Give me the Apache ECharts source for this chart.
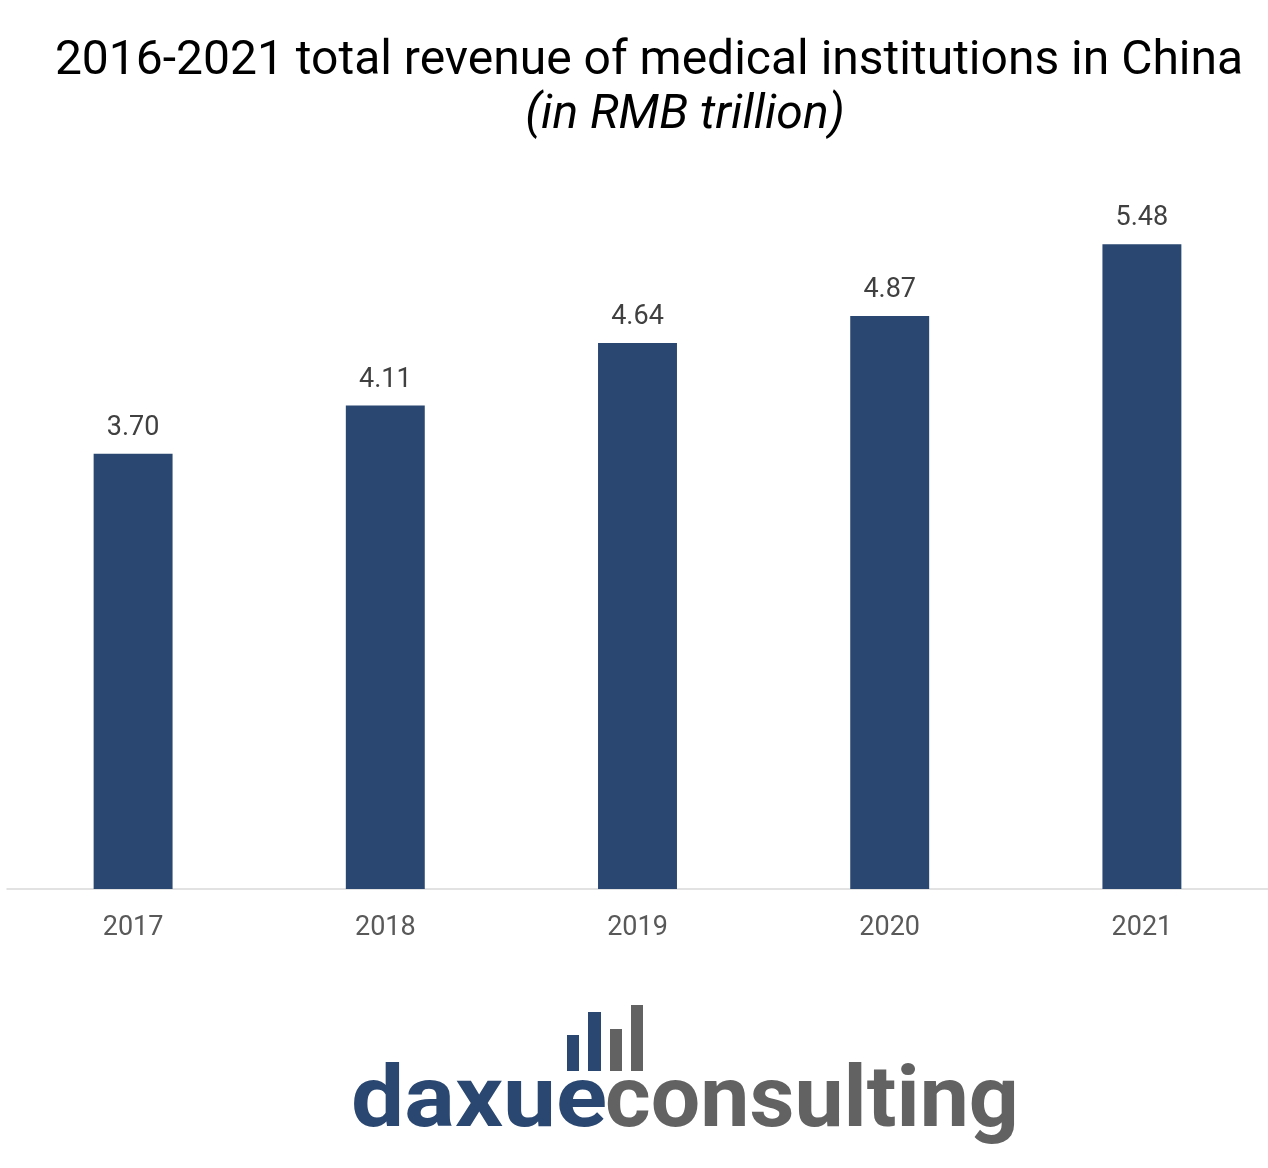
<!DOCTYPE html>
<html>
<head>
<meta charset="utf-8">
<script src="https://cdn.jsdelivr.net/npm/echarts@6/dist/echarts.min.js"></script>
<style>
html,body{margin:0;padding:0;background:#fff;}
#chart{width:1268px;height:1168px;}
</style>
</head>
<body>
<div id="chart"></div>
<script>
var categories = ['2017', '2018', '2019', '2020', '2021'];
var revenue = [3.70, 4.11, 4.64, 4.87, 5.48];
var titleText = '2016-2021 total revenue of medical institutions in China';
var subtitleText = '(in RMB trillion)';
var logoPartA = 'daxue';
var logoPartB = 'consulting';

var chart = echarts.init(document.getElementById('chart'));
chart.setOption({
  backgroundColor: '#ffffff',
  animation: false,
  title: [
    {
      text: titleText,
      left: 644, top: 33, textAlign: 'center',
      textStyle: {fontFamily: 'Roboto', fontSize: 48, fontWeight: 'normal', color: '#000000'}
    },
    {
      text: subtitleText,
      left: 680, top: 87, textAlign: 'center',
      textStyle: {fontFamily: 'Roboto', fontSize: 48, fontWeight: 'normal', fontStyle: 'italic', color: '#000000'}
    }
  ],
  grid: {left: 7, right: 0, top: 183, bottom: 279, containLabel: false},
  xAxis: {
    type: 'category',
    data: categories,
    axisLine: {show: true, lineStyle: {color: '#d9d9d9', width: 1.5}},
    axisTick: {show: false},
    axisLabel: {fontFamily: 'Roboto', fontSize: 27, color: '#595959', margin: 26}
  },
  yAxis: {
    type: 'value', min: 0, max: 6, interval: 1,
    show: false,
    splitLine: {show: false}
  },
  series: [{
    type: 'bar',
    data: revenue,
    barWidth: '31.3%',
    itemStyle: {color: '#2a4771'},
    label: {
      show: true, position: 'top', distance: 12,
      fontFamily: 'Roboto', fontSize: 27, color: '#404040',
      formatter: function (p) { return p.value.toFixed(2); }
    }
  }],
  graphic: [
    {type: 'rect', shape: {x: 567, y: 1035, width: 12, height: 36}, style: {fill: '#2a4771'}},
    {type: 'rect', shape: {x: 588, y: 1012, width: 13, height: 59}, style: {fill: '#2a4771'}},
    {type: 'rect', shape: {x: 610, y: 1029, width: 12, height: 42}, style: {fill: '#626262'}},
    {type: 'rect', shape: {x: 631, y: 1005, width: 12, height: 66}, style: {fill: '#626262'}},
    {
      type: 'text', x: 351, y: 1061, scaleX: 1.10,
      style: {text: logoPartA, x: 0, y: 0, font: 'bold 86px Roboto', fill: '#2a4771'}
    },
    {
      type: 'text', x: 605, y: 1061, scaleX: 1.02,
      style: {text: logoPartB, x: 0, y: 0, font: 'bold 86px Roboto', fill: '#626262'}
    }
  ]
});
</script>
</body>
</html>
